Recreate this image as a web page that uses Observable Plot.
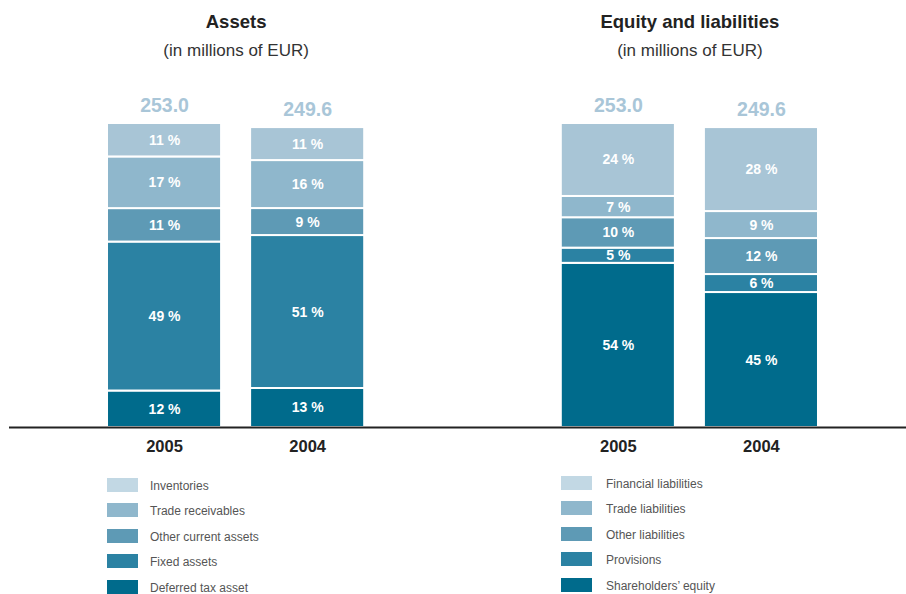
<!DOCTYPE html>
<html>
<head>
<meta charset="utf-8">
<script src="https://cdn.jsdelivr.net/npm/d3@7"></script>
<script src="https://cdn.jsdelivr.net/npm/@observablehq/plot@0.6"></script>
<style>
  html, body { margin: 0; padding: 0; background: #fff; overflow: hidden; }
  body { font-family: "Liberation Sans", Arial, sans-serif; }
  #wrap { position: relative; width: 906px; height: 594px; overflow: hidden; }
  #chart { position: absolute; left: 0; top: 0; }
  .legend { position: absolute; }
  .legend .row { display: flex; align-items: center; height: 25.5px; }
  .legend .sw { width: 31px; height: 14px; flex: none; }
  .legend .lb { font-size: 12px; color: #555; line-height: 13px; padding-top: 3px; }
</style>
</head>
<body>
<div id="wrap">
  <div id="chart"></div>
  <div class="legend" id="legend0" style="left:107px; top:472px;"></div>
  <div class="legend" id="legend1" style="left:561px; top:470px;"></div>
</div>
<script>
// ---------- data ----------
const groups = ["Assets", "Equity and liabilities"];
const subtitle = "(in millions of EUR)";
const years = ["2005", "2004"];

const assetTotals = [253.0, 249.6];
const liabilityTotals = [253.0, 249.6];

// bottom -> top
const assetCategories = ["Deferred tax asset", "Fixed assets", "Other current assets", "Trade receivables", "Inventories"];
const liabilityCategories = ["Shareholders’ equity", "Provisions", "Other liabilities", "Trade liabilities", "Financial liabilities"];

const assetShares2005 = [12, 49, 11, 17, 11];
const assetShares2004 = [13, 51, 9, 16, 11];
const liabilityShares2005 = [54, 5, 10, 7, 24];
const liabilityShares2004 = [45, 6, 12, 9, 28];

// ---------- styles ----------
const barColors = ["#006b8c", "#2b82a3", "#5e9ab5", "#8fb7cc", "#a8c5d6"];
const legendColors = ["#006b8c", "#2b82a3", "#5e9ab5", "#8fb7cc", "#c2d8e4"];
const fontFamily = '"Liberation Sans", Arial, sans-serif';

// ---------- table ----------
const totalsByGroup = [assetTotals, liabilityTotals];
const sharesByGroup = [[assetShares2005, assetShares2004], [liabilityShares2005, liabilityShares2004]];
const categoriesByGroup = [assetCategories, liabilityCategories];

const rows = [];
const totals = [];
groups.forEach((g, gi) => {
  years.forEach((yr, yi) => {
    totals.push({group: g, year: yr, total: totalsByGroup[gi][yi]});
    sharesByGroup[gi][yi].forEach((p, level) => {
      rows.push({group: g, year: yr, level, category: categoriesByGroup[gi][level], pct: p,
                 value: totalsByGroup[gi][yi] * p / 100});
    });
  });
});
const yearCells = totals.map(d => ({group: d.group, year: d.year}));

const chart = Plot.plot({
  width: 906,
  height: 470,
  marginLeft: 92.5,
  marginRight: 73.5,
  marginTop: 123,
  marginBottom: 43,
  style: {fontFamily, background: "white", overflow: "visible"},
  fx: {domain: groups, paddingInner: 0.3693, paddingOuter: 0, round: false, axis: null, label: null},
  x: {domain: years, paddingInner: 0.2028, paddingOuter: 0.1014, round: false, axis: null, label: null},
  y: {domain: [0, d3.max(totals, d => d.total)], axis: null, label: null},
  color: {type: "ordinal", domain: d3.range(barColors.length), range: barColors},
  marks: [
    Plot.barY(rows, {fx: "group", x: "year", y: "value", z: "level", fill: "level",
                     stroke: "white", strokeWidth: 2}),
    Plot.text(rows, Plot.stackY({fx: "group", x: "year", y: "value", z: "level",
                     text: d => `${d.pct} %`, fill: "white", fontWeight: "bold", fontSize: 14})),
    Plot.text(totals, {fx: "group", x: "year", y: "total", text: d => d.total.toFixed(1),
                     dy: -18, fill: "#a9c6d8", fontWeight: "bold", fontSize: 19.5}),
    Plot.text(yearCells, {fx: "group", x: "year", text: "year", frameAnchor: "bottom",
                     lineAnchor: "middle", dy: 19, fill: "#222", fontWeight: "bold", fontSize: 16.5}),
    Plot.text(groups, {fx: d => d, text: d => d, frameAnchor: "top", lineAnchor: "middle", dy: -101,
                     fill: "#222", fontWeight: "bold", fontSize: 18.5}),
    Plot.text(groups, {fx: d => d, text: () => subtitle, frameAnchor: "top", lineAnchor: "middle", dy: -73,
                     fill: "#333", fontSize: 17}),
    // one continuous baseline, anchored in the first facet and running to the right edge
    Plot.ruleY([groups[0]], {fx: d => d, y: () => 0, stroke: "#222", strokeWidth: 2,
                     insetLeft: -83.5, insetRight: -527.5})
  ]
});
document.getElementById("chart").appendChild(chart);

// ---------- legends (top row = top of stack) ----------
categoriesByGroup.forEach((cats, gi) => {
  const el = document.getElementById("legend" + gi);
  d3.range(cats.length).reverse().forEach(level => {
    const row = document.createElement("div");
    row.className = "row";
    const sw = document.createElement("div");
    sw.className = "sw";
    sw.style.background = legendColors[level];
    const lb = document.createElement("div");
    lb.className = "lb";
    lb.style.marginLeft = gi === 0 ? "12px" : "14px";
    lb.textContent = cats[level];
    row.appendChild(sw);
    row.appendChild(lb);
    el.appendChild(row);
  });
});
</script>
</body>
</html>
